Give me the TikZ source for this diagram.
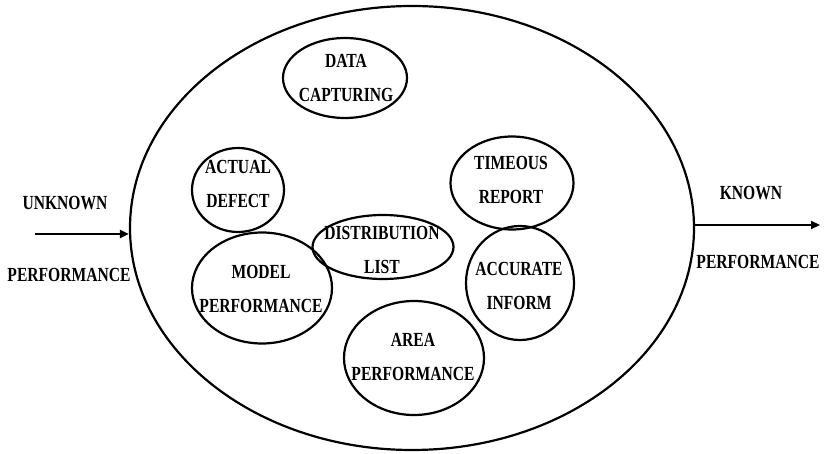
\documentclass[tikz,border=0pt]{standalone}
\usepackage{fontspec}
\setmainfont{Liberation Serif}
\newfontfamily\diagfont[FakeStretch=0.78]{Liberation Serif}
\usetikzlibrary{shapes.geometric,arrows.meta}
\begin{document}
\begin{tikzpicture}[x=1pt,y=-1pt,
  bub/.style={draw=black,line width=2.2pt,ellipse,inner sep=0pt},
  txt/.style={align=center,inner sep=0pt,font=\diagfont\bfseries\fontsize{20}{34}\selectfont},
  arr/.style={line width=2.2pt,-{Triangle[length=9pt,width=8pt]}}]
\useasboundingbox (0,0) rectangle (824,454);
% outer ellipse
\node[bub,minimum width=564pt,minimum height=444pt] (big) at (412,228) {};
% inner bubbles
\node[bub,minimum width=124pt,minimum height=80pt] (data) at (345,78) {};
\node[txt] at (346,78) {DATA\\CAPTURING};
\node[bub,minimum width=92pt,minimum height=84pt] (actual) at (238,190) {};
\node[txt] at (238,184) {ACTUAL\\DEFECT};
\node[bub,minimum width=140pt,minimum height=111pt] (model) at (262,288) {};
\node[txt] at (261,289) {MODEL\\PERFORMANCE};
\node[bub,minimum width=141pt,minimum height=64pt] (dist) at (383,247) {};
\node[txt] at (382,250) {DISTRIBUTION\\LIST};
\node[bub,minimum width=123pt,minimum height=93pt] (timeous) at (512,183) {};
\node[txt] at (511,180) {TIMEOUS\\REPORT};
\node[bub,minimum width=108pt,minimum height=114pt] (accurate) at (520,283) {};
\node[txt] at (519,286) {ACCURATE\\INFORM};
\node[bub,minimum width=140pt,minimum height=114pt] (area) at (414,358) {};
\node[txt] at (413,357) {AREA\\PERFORMANCE};
% input / output
\coordinate (in) at (35,234);
\coordinate (out) at (820,225);
\draw[arr] (in) -- (big.west |- in);
\draw[arr] (big.east |- out) -- (out);
\node[txt] (unk) at (65,203) {UNKNOWN};
\node[txt] (perfl) at (69,275) {PERFORMANCE};
\node[txt] (known) at (751,193) {KNOWN};
\node[txt] (perfr) at (758,262) {PERFORMANCE};
\end{tikzpicture}
\end{document}
